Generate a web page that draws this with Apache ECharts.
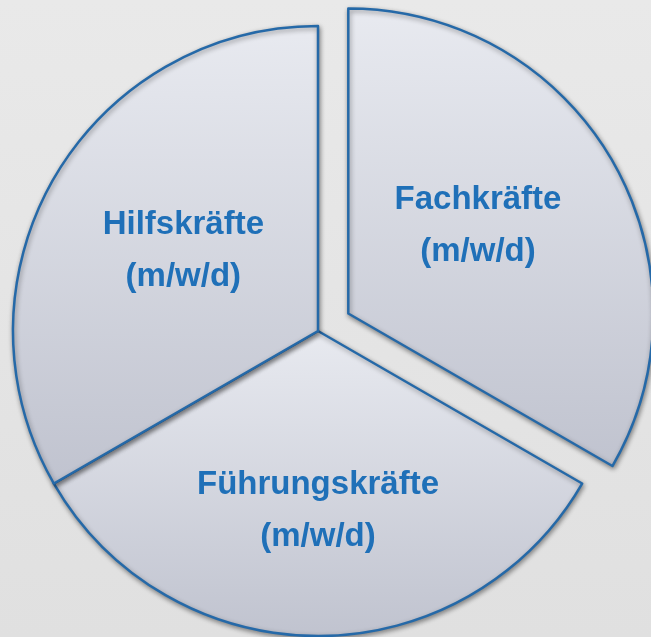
<!DOCTYPE html>
<html>
<head>
<meta charset="utf-8">
<script src="https://cdn.jsdelivr.net/npm/echarts@6/dist/echarts.min.js"></script>
<style>
  html, body { margin: 0; padding: 0; }
  #pieChart { width: 651px; height: 637px; }
</style>
</head>
<body>
<div id="pieChart"></div>
<script>
// Kategorien und Werte (drei gleich große Segmente)
var categories = ['Fachkräfte', 'Führungskräfte', 'Hilfskräfte'];
var values = [1, 1, 1];
var labelLines = ['(m/w/d)', '(m/w/d)', '(m/w/d)'];
// nur Fachkräfte ist herausgezogen
var selectedFlags = [true, false, false];

// kleine Verschiebungen der Beschriftungen
var labelOffsets = [[0, 0], [0, 24], [0, -2]];
var labelPaddings = [[0, 10, 0, 0], [0, 0, 0, 0], [0, 0, 0, 0]];
// leere Zusatzzeile schiebt den Text nach oben
var extraGap = [true, false, false];

function sliceFill() {
    return new echarts.graphic.LinearGradient(0, 0, 0, 1, [
        { offset: 0, color: '#e8eaf0' },
        { offset: 1, color: '#c0c3cf' }
    ]);
}

var pieData = categories.map(function (name, i) {
    return {
        name: name,
        value: values[i],
        selected: selectedFlags[i],
        label: { offset: labelOffsets[i], padding: labelPaddings[i] },
        itemStyle: { color: sliceFill() }
    };
});

var labelStyle = {
    color: '#1f70b8',
    fontFamily: 'Liberation Sans, Arial, sans-serif',
    fontWeight: 'bold',
    fontSize: 33,
    lineHeight: 52
};

var chart = echarts.init(document.getElementById('pieChart'));
chart.setOption({
    backgroundColor: new echarts.graphic.LinearGradient(0, 0, 0, 1, [
        { offset: 0, color: '#e9e9e9' },
        { offset: 1, color: '#e0e0e0' }
    ]),
    animation: false,
    series: [
        {
            type: 'pie',
            center: [318, 331],
            radius: 305,
            startAngle: 90,
            clockwise: true,
            selectedMode: 'single',
            selectedOffset: 35,
            avoidLabelOverlap: false,
            emphasis: { disabled: true },
            itemStyle: {
                borderColor: '#2569a8',
                borderWidth: 2.5,
                shadowBlur: 5,
                shadowColor: 'rgba(0,0,0,0.4)',
                shadowOffsetX: 1,
                shadowOffsetY: 2
            },
            label: {
                show: true,
                position: 'inside',
                formatter: function (p) {
                    var s = '{t|' + p.name + '}\n{t|' + labelLines[p.dataIndex] + '}';
                    if (extraGap[p.dataIndex]) s += '\n{gap| }';
                    return s;
                },
                align: 'center',
                rich: {
                    t: labelStyle,
                    gap: { fontSize: 1, lineHeight: 20 }
                }
            },
            labelLine: { show: false },
            data: pieData
        }
    ]
});
</script>
</body>
</html>
